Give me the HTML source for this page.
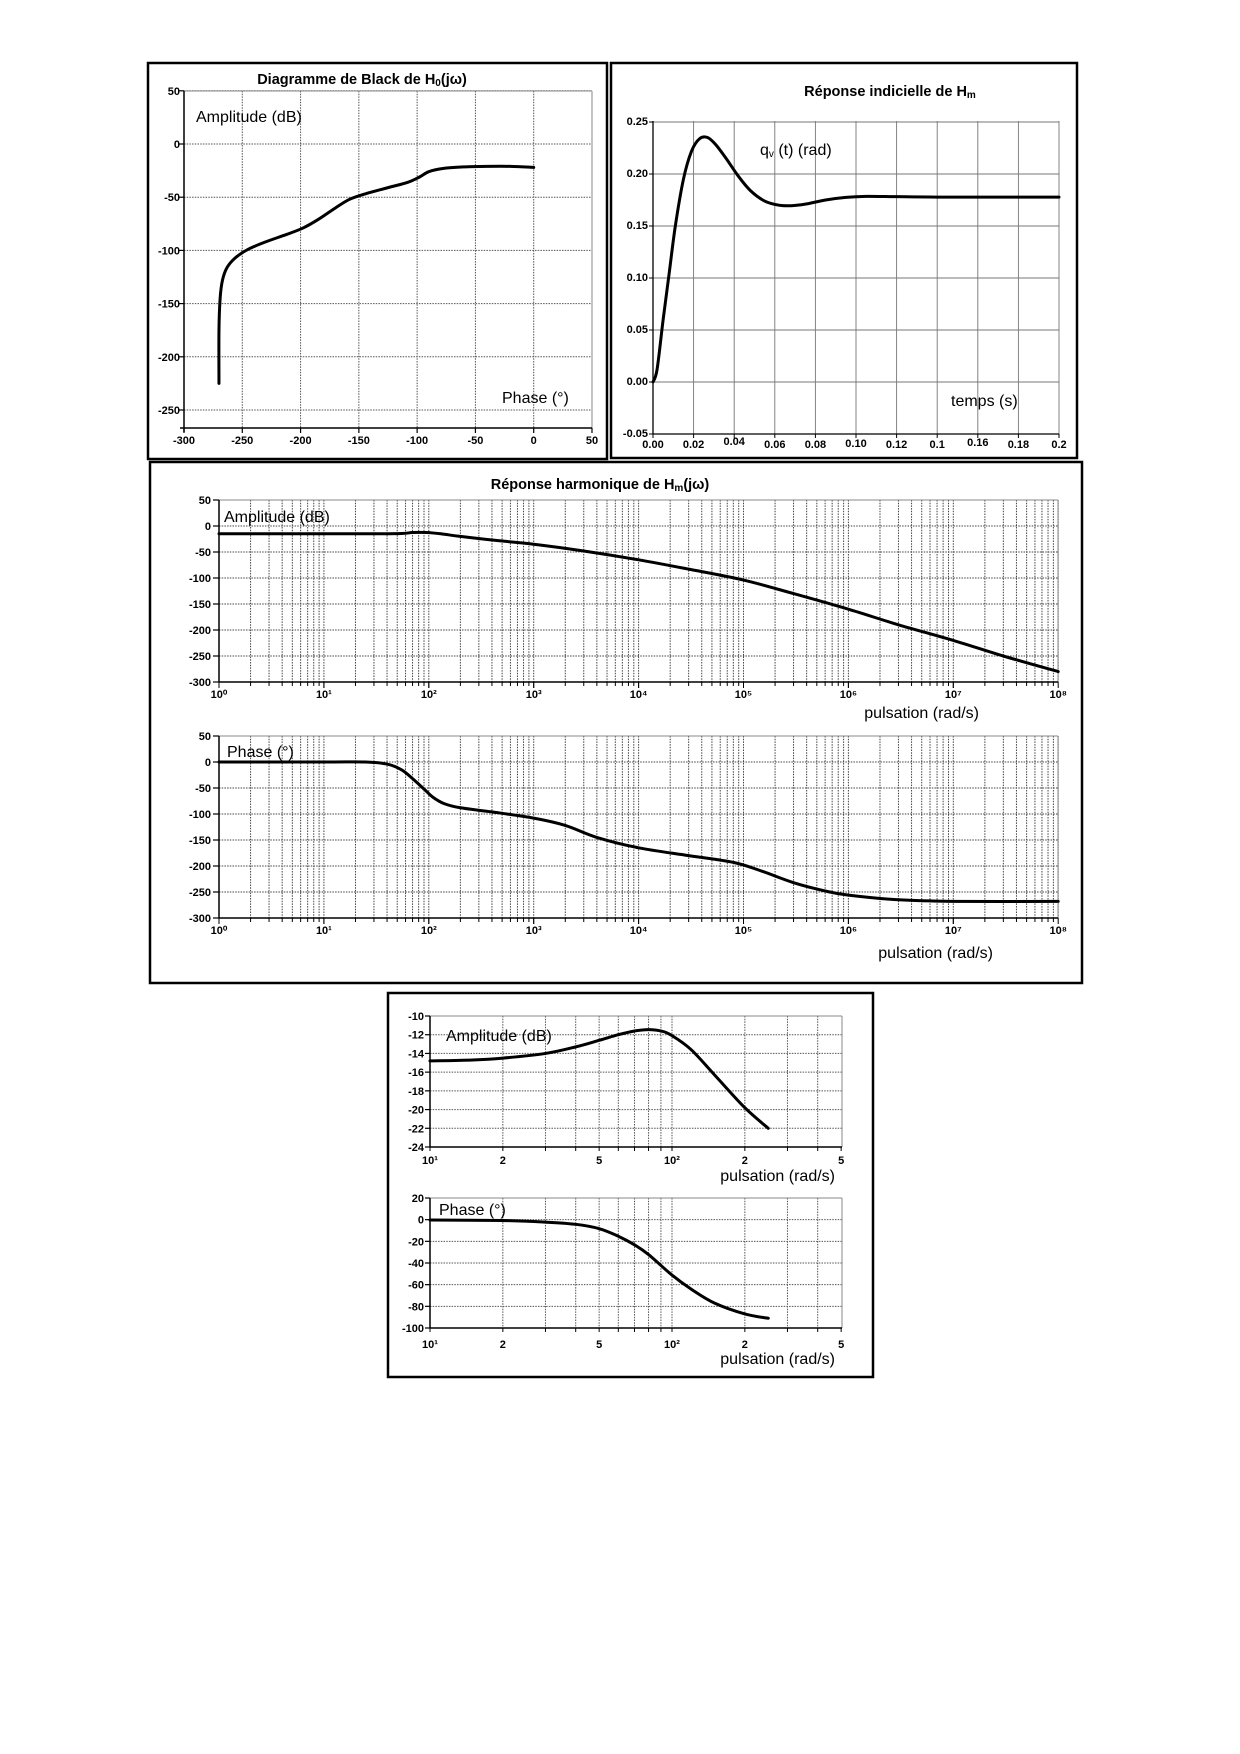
<!DOCTYPE html>
<html><head><meta charset="utf-8">
<style>
html,body{margin:0;padding:0;background:#fff;}
svg{display:block;}
text{font-family:"Liberation Sans",sans-serif;}
.t{font-weight:bold;font-size:11px;}
.lab{font-size:16px;}
.ttl{font-weight:bold;font-size:14.5px;}
</style></head>
<body>
<svg id="s" width="1240" height="1754" viewBox="0 0 1240 1754" xmlns="http://www.w3.org/2000/svg">
<rect width="1240" height="1754" fill="#fff"/>
<g id="g"></g>
<rect x="148" y="63" width="459" height="396" fill="none" stroke="#000" stroke-width="2.5"/>
<rect x="611" y="63" width="466" height="395" fill="none" stroke="#000" stroke-width="2.5"/>
<rect x="150" y="462" width="932" height="521" fill="none" stroke="#000" stroke-width="2.5"/>
<rect x="388" y="993" width="485" height="384" fill="none" stroke="#000" stroke-width="2.5"/>
<text class="ttl" x="362" y="84" text-anchor="middle">Diagramme de Black de H<tspan font-size="10" dy="2">0</tspan><tspan dy="-2">(jω)</tspan></text>
<text class="lab" x="196" y="122">Amplitude (dB)</text>
<text class="lab" x="502" y="403">Phase (°)</text>
<text class="ttl" x="890" y="96" text-anchor="middle">Réponse indicielle de H<tspan font-size="10" dy="2">m</tspan></text>
<text class="lab" x="760" y="155">q<tspan font-size="10" dy="2">v</tspan><tspan dy="-2"> (t) (rad)</tspan></text>
<text class="lab" x="951" y="406">temps (s)</text>
<text class="ttl" x="600" y="489" text-anchor="middle">Réponse harmonique de H<tspan font-size="10" dy="2">m</tspan><tspan dy="-2">(jω)</tspan></text>
<text class="lab" x="224" y="522">Amplitude (dB)</text>
<text class="lab" x="979" y="718" text-anchor="end">pulsation (rad/s)</text>
<text class="lab" x="227" y="757">Phase (°)</text>
<text class="lab" x="993" y="958" text-anchor="end">pulsation (rad/s)</text>
<text class="lab" x="446" y="1041">Amplitude (dB)</text>
<text class="lab" x="835" y="1181" text-anchor="end">pulsation (rad/s)</text>
<text class="lab" x="439" y="1215">Phase (°)</text>
<text class="lab" x="835" y="1364" text-anchor="end">pulsation (rad/s)</text>
</svg>
<script>
var G=document.getElementById('g'),NS='http://www.w3.org/2000/svg';
function el(n,a,txt){var e=document.createElementNS(NS,n);for(var k in a)e.setAttribute(k,a[k]);if(txt!==undefined)e.textContent=txt;G.appendChild(e);return e;}
function ln(x1,y1,x2,y2,st,w,da){var a={x1:x1,y1:y1,x2:x2,y2:y2,stroke:st,'stroke-width':w||1};if(da)a['stroke-dasharray']=da;el('line',a);}
function tx(x,y,s,anc){el('text',{x:x,y:y,'class':'t','text-anchor':anc||'middle'},s);}
function curve(pts,w){var d='M'+pts[0][0]+','+pts[0][1];for(var i=0;i<pts.length-1;i++){var p0=pts[i-1]||pts[i],p1=pts[i],p2=pts[i+1],p3=pts[i+2]||p2;
var c1x=p1[0]+(p2[0]-p0[0])/6,c1y=p1[1]+(p2[1]-p0[1])/6,c2x=p2[0]-(p3[0]-p1[0])/6,c2y=p2[1]-(p3[1]-p1[1])/6;
d+=' C'+c1x+','+c1y+' '+c2x+','+c2y+' '+p2[0]+','+p2[1];}
el('path',{d:d,fill:'none',stroke:'#000','stroke-width':w||3,'stroke-linejoin':'round','stroke-linecap':'round'});}
var DOT='1.5,1.2';
(function(){var X=function(p){return 184+(p+300)*1.1657},Y=function(d){return 144-d*1.064};
var L=184,R=592,T=91,B=428;
for(var p=-250;p<=50;p+=50)ln(X(p),T,X(p),B,'#555',1,DOT);
for(var d=-250;d<=50;d+=50)ln(L,Y(d),R,Y(d),'#555',1,DOT);
ln(L,T,R,T,'#888',1);ln(R,T,R,B,'#888',1);
ln(L,T,L,B+4,'#000',1.5);ln(L-4,B,R,B,'#000',1.5);
var xl=['-300','-250','-200','-150','-100','-50','0','50'];
for(var i=0;i<8;i++){var x=X(-300+50*i);ln(x,B,x,B+5,'#000',1.2);tx(x,444,xl[i]);}
var yl=['50','0','-50','-100','-150','-200','-250'];
for(var i=0;i<7;i++){var y=Y(50-50*i);ln(L-5,y,L,y,'#000',1.2);tx(L-4,y+4,yl[i],'end');}
var pts=[[-270,-225],[-270,-175],[-269,-145],[-267,-128],[-263,-116],[-256,-107],[-245,-99],[-230,-92],[-212,-85],[-198,-79],[-185,-71],[-170,-60],[-158,-52],[-145,-47],[-125,-41],[-108,-36],[-98,-31],[-90,-26],[-78,-23],[-60,-21.5],[-40,-21],[-20,-21],[0,-22]];
curve(pts.map(function(q){return[X(q[0]),Y(q[1])]}),3);})();
(function(){var X=function(t){return 653+t*2030},Y=function(v){return 382-v*1040};
var L=653,R=1059,T=121,B=434;
for(var i=1;i<=10;i++)ln(X(0.02*i),T,X(0.02*i),B,'#777',0.9);
for(var v=-0.05;v<=0.26;v+=0.05)ln(L,Y(v),R,Y(v),'#777',0.9);
ln(L,T,L,B,'#000',1.3);ln(L,B,R,B,'#000',1.3);
var xl=['0.00','0.02','0.04','0.06','0.08','0.10','0.12','0.1','0.16','0.18','0.2'];
var dy=[0,0,-3,0,0,-1,0,0,-2,0,0];
for(var i=0;i<11;i++){var x=X(0.02*i);ln(x,B,x,B+4,'#000',1);tx(x,448+dy[i],xl[i]);}
var yl=['0.25','0.20','0.15','0.10','0.05','0.00','-0.05'];
for(var i=0;i<7;i++){var y=Y(0.25-0.05*i);ln(L-4,y,L,y,'#000',1);tx(L-5,y+3,yl[i],'end');}
var pts=[[0,0],[0.002,0.012],[0.005,0.06],[0.008,0.105],[0.011,0.15],[0.015,0.195],[0.019,0.222],[0.023,0.234],[0.027,0.235],[0.031,0.228],[0.036,0.215],[0.042,0.198],[0.048,0.184],[0.055,0.174],[0.062,0.17],[0.068,0.1695],[0.075,0.171],[0.085,0.175],[0.095,0.1775],[0.105,0.1785],[0.12,0.1782],[0.14,0.1778],[0.2,0.1778]];
curve(pts.map(function(q){return[X(q[0]),Y(q[1])]}),3);})();
function bodeBig(T,B,ZY,per,ylabels,pts,ticky){
var L=219,R=1058,X=function(w){return L+Math.log10(w)*104.9};
for(var dec=0;dec<8;dec++)for(var m=2;m<=10;m++){var x=X(m*Math.pow(10,dec));ln(x,T,x,B,'#444',1,DOT);}
for(var i=0;i<ylabels.length;i++){var y=T+i*per;if(i>0&&i<ylabels.length-1)ln(L,y,R,y,'#444',1,DOT);}
ln(L,T,R,T,'#888',1);ln(R,T,R,B,'#888',1);
ln(L,T,L,B,'#000',1.5);ln(L,B,R,B,'#000',1.5);
for(var i=0;i<ylabels.length;i++){var y=T+i*per;ln(L-6,y,L,y,'#000',1.2);tx(L-8,y+4,ylabels[i],'end');}
var sup=['10⁰','10¹','10²','10³','10⁴','10⁵','10⁶','10⁷','10⁸'];
for(var dec=0;dec<8;dec++)for(var m=1;m<=10;m++){var x=X(m*Math.pow(10,dec));ln(x,B,x,B+(m==1||m==10?6:4),'#000',1);}
for(var i=0;i<9;i++)tx(X(Math.pow(10,i)),ticky,sup[i]);
curve(pts.map(function(q){return[X(q[0]),ZY(q[1])]}),3);}
var yl=['50','0','-50','-100','-150','-200','-250','-300'];
bodeBig(500,682,function(d){return 526-d*0.52},26,yl,
[[1,-15],[10,-15],[30,-15],[55,-14.5],[70,-12.5],[95,-12.5],[130,-15],[200,-20],[400,-27],[1000,-35],[3000,-48],[1e4,-65],[3e4,-83],[1e5,-104],[3e5,-130],[1e6,-160],[3e6,-190],[1e7,-220],[3e7,-250],[1e8,-280]],698);
bodeBig(736,918,function(d){return 762-d*0.52},26,yl,
[[1,0],[10,0],[25,0],[40,-4],[55,-15],[70,-32],[90,-52],[110,-68],[140,-80],[200,-88],[400,-96],[1000,-108],[2000,-122],[4000,-145],[1e4,-165],[3e4,-180],[8e4,-193],[1.5e5,-210],[3e5,-232],[6e5,-248],[1e6,-256],[3e6,-265],[1e7,-268],[1e8,-268]],934);
function bodeSmall(T,B,ylabels,ZY,pts,ticky){
var L=430,R=842,X=function(w){return L+Math.log10(w/10)*242};
var per=(B-T)/(ylabels.length-1);
[20,30,40,50,60,70,80,90,100,200,300,400].forEach(function(w){ln(X(w),T,X(w),B,'#555',1,DOT);});
for(var i=1;i<ylabels.length-1;i++)ln(L,T+i*per,R,T+i*per,'#555',1,DOT);
ln(L,T,R,T,'#888',1);ln(R,T,R,B,'#888',1);
ln(L,T,L,B,'#000',1.5);ln(L,B,R,B,'#000',1.5);
for(var i=0;i<ylabels.length;i++){var y=T+i*per;ln(L-5,y,L,y,'#000',1.2);tx(L-6,y+4,ylabels[i],'end');}
[10,20,30,40,50,60,70,80,90,100,200,300,400,500].forEach(function(w){ln(X(w),B,X(w),B+4,'#000',1);});
var xs=[[10,'10¹'],[20,'2'],[50,'5'],[100,'10²'],[200,'2'],[500,'5']];
xs.forEach(function(q){tx(X(q[0]),ticky,q[1]);});
curve(pts.map(function(q){return[X(q[0]),ZY(q[1])]}),3);}
bodeSmall(1016,1147,['-10','-12','-14','-16','-18','-20','-22','-24'],function(d){return 1016-(d+10)*9.36},
[[10,-14.8],[15,-14.7],[20,-14.5],[30,-14],[40,-13.3],[50,-12.6],[60,-12],[70,-11.6],[80,-11.45],[90,-11.6],[100,-12.1],[120,-13.6],[150,-16.3],[200,-19.8],[250,-22]],1164);
bodeSmall(1198,1328,['20','0','-20','-40','-60','-80','-100'],function(p){return 1220-p*1.08},
[[10,0],[20,-0.5],[30,-2],[40,-4],[50,-8],[60,-15],[70,-23],[80,-32],[100,-51],[120,-64],[150,-77],[200,-87],[250,-91]],1348);
</script>
</body></html>
